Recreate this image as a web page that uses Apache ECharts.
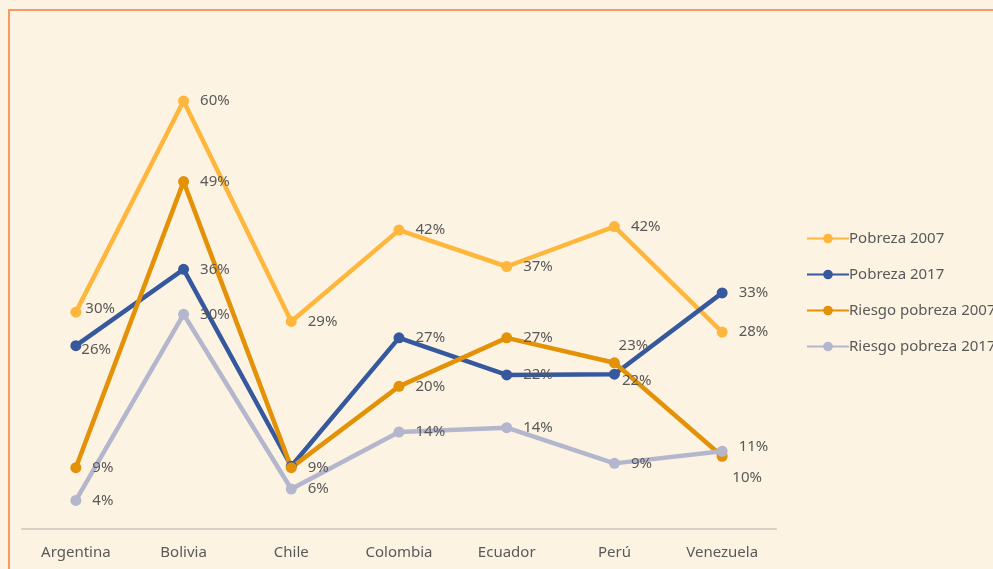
<!DOCTYPE html>
<html>
<head>
    <meta charset="utf-8">
    <title>Pobreza</title>
    <script type="text/javascript" src="https://cdn.jsdelivr.net/npm/echarts@6/dist/echarts.min.js"></script>
    <style>
        html, body { margin: 0; padding: 0; background: #FDF3E3; }
    </style>
</head>
<body>
<div id="main" style="width: 993px;height:569px;"></div>
<script type="text/javascript">
    // datos (porcentajes)
    var paises = ['Argentina', 'Bolivia', 'Chile', 'Colombia', 'Ecuador', 'Perú', 'Venezuela'];
    var pobreza2007 = [30.4, 60.0, 29.1, 41.9, 36.8, 42.4, 27.6];
    var pobreza2017 = [25.7, 36.4, 8.8, 26.8, 21.6, 21.7, 33.1];
    var riesgo2007 = [8.6, 48.7, 8.6, 20.0, 26.8, 23.3, 10.2];
    var riesgo2017 = [4.0, 30.1, 5.6, 13.6, 14.2, 9.2, 10.9];

    var colores = ['#FFB63D', '#36599E', '#E39106', '#B3B6CC'];
    var textoColor = '#595959';

    var myChart = echarts.init(document.getElementById('main'));

    // ajustes de etiquetas puntuales (como en el original)
    var ajustes = {
        0: { 0: { distance: 4, offset: [0, -3] } },
        1: { 0: { distance: 0, offset: [0, 4] }, 2: { show: false }, 5: { distance: 2, offset: [0, 7] } },
        2: { 5: { position: 'top', distance: 4, offset: [19, 0] }, 6: { position: 'bottom', distance: 8, offset: [25, 0] } },
        3: { 6: { offset: [0, -5] } }
    };

    function serie(nombre, valores, idx) {
        return {
            name: nombre,
            type: 'line',
            symbol: 'circle',
            symbolSize: 11,
            lineStyle: { width: 4.5, color: colores[idx] },
            itemStyle: { color: colores[idx] },
            label: {
                show: true,
                position: 'right',
                distance: 11,
                color: textoColor,
                fontSize: 15,
                fontFamily: 'Noto Sans',
                formatter: function (p) { return Math.round(p.value) + '%'; }
            },
            data: valores.map(function (v, i) {
                var aj = ajustes[idx][i];
                return aj ? { value: v, label: aj } : v;
            })
        };
    }

    var option = {
        backgroundColor: '#FDF3E3',
        animation: false,
        color: colores,
        textStyle: { fontFamily: 'Noto Sans' },
        graphic: [{
            type: 'rect',
            shape: { x: 9, y: 10, width: 1200, height: 800 },
            style: { fill: 'none', stroke: '#F59A62', lineWidth: 2 },
            silent: true
        }],
        legend: {
            orient: 'vertical',
            left: 801,
            top: 226,
            itemWidth: 42,
            itemHeight: 12,
            itemGap: 21,
            textStyle: { color: textoColor, fontSize: 15, padding: [0, 0, 0, -5] },
            data: ['Pobreza 2007', 'Pobreza 2017', 'Riesgo pobreza 2007', 'Riesgo pobreza 2017']
        },
        grid: { left: 22, right: 217, top: 101, bottom: 40 },
        xAxis: {
            type: 'category',
            data: paises,
            axisLine: { lineStyle: { color: '#D6D0C6', width: 2 } },
            axisTick: { show: false },
            axisLabel: { color: textoColor, fontSize: 15, margin: 16 }
        },
        yAxis: {
            type: 'value',
            min: 0,
            max: 60,
            show: false,
            splitLine: { show: false }
        },
        series: [
            serie('Pobreza 2007', pobreza2007, 0),
            serie('Pobreza 2017', pobreza2017, 1),
            serie('Riesgo pobreza 2007', riesgo2007, 2),
            serie('Riesgo pobreza 2017', riesgo2017, 3)
        ]
    };

    myChart.setOption(option);
</script>
</body>
</html>
